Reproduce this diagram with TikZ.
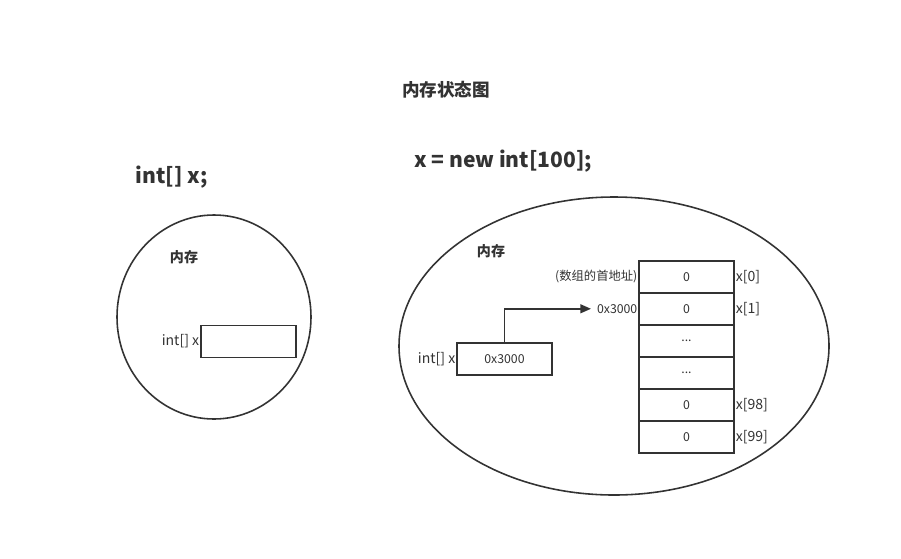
\documentclass[tikz,border=0pt]{standalone}
\usepackage{fontspec}
\setmainfont{Noto Sans CJK SC}
\usetikzlibrary{arrows.meta, positioning}
\newcommand\celldots{...}
\tikzset{%
    boxsty/.style={
        draw,
        line width=0.9pt,
        minimum width=1.9cm,
        minimum height=0.64cm,
        inner sep=0pt,
        font=\scriptsize,
    },
    cellsty/.style={
        boxsty,
        anchor=north,
    },
    labelsty/.style={
        inner sep=0pt,
        font=\footnotesize,
    },
}
\begin{document}
\begin{tikzpicture}[x=0.02cm,y=-0.02cm,line width=0.9pt,color=black!80]
\useasboundingbox (0,0) rectangle (901,558);

% titles
\node (title) at (446,90) {\bfseries 内存状态图};
\node (decl) at (172,177) [font=\large\bfseries] {int[] x;};
\node (alloc) at (503,161) [font=\large\bfseries] {x = new int[100];};

% left memory
\draw (214,317) ellipse [x radius=97, y radius=102];
\node (mem1) at (184,257) [font=\footnotesize\bfseries] {内存};
\node (box1) at (248.5,341.5) [boxsty] {};
\node (lab1) [labelsty,left=0.25 of box1] {int[] x};

% right memory
\draw (614,346) ellipse [x radius=215, y radius=149];
\node (mem2) at (491,251) [font=\footnotesize\bfseries] {内存};
\node (box2) at (504.5,359) [boxsty] {0x3000};
\node (lab2) [labelsty,left=0.12 of box2] {int[] x};

% array cells
\foreach \i/\v/\n in {0/0/x[0], 1/0/x[1], 2/\celldots/, 3/\celldots/, 4/0/x[98], 5/0/x[99]} {
    \node (c\i) at (686.5,260+32*\i) [cellsty] {\v};
    \node [labelsty,right=0.2 of c\i] {\n};
}
\node (addr) [font=\scriptsize,inner sep=0pt,left=0.12 of c0] {(数组的首地址)};
\node (ptr) [font=\scriptsize,inner sep=0pt,left=0.12 of c1] {0x3000};

\coordinate (bend) at (box2.north |- ptr.west);
\draw[-{Triangle[length=6pt,width=5pt]}] (box2.north) -- (bend) -- ([xshift=-3pt]ptr.west);

\end{tikzpicture}
\end{document}
